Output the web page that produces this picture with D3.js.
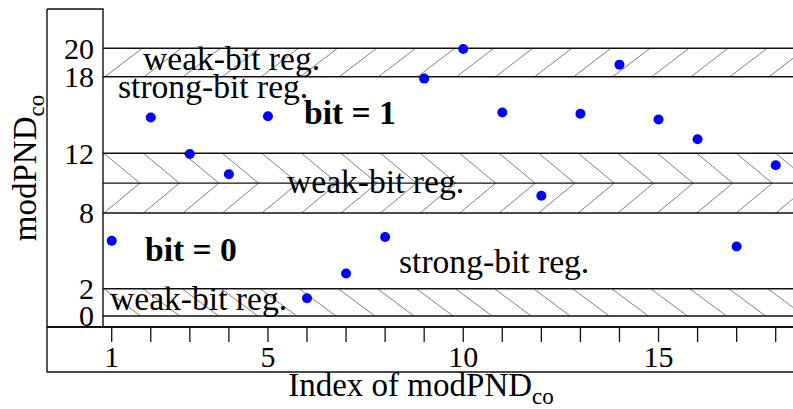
<!DOCTYPE html>
<html>
<script src="https://cdn.jsdelivr.net/npm/d3@7/dist/d3.min.js"></script>
<style>
  body, html { margin: 0; padding: 0; background: #fff; }
  svg { display: block; font-family: "Liberation Serif", "Times New Roman", serif; }
</style>
<body>
<svg width="793" height="409"></svg>
<script>
  // data
  var indices = [1, 2, 3, 4, 5, 6, 7, 8, 9, 10, 11, 12, 13, 14, 15, 16, 17, 18];
  var modPND = [5.8, 14.8, 11.95, 10.6, 14.9, 1.3, 3.2, 6.1, 17.85, 19.95,
                15.2, 9.15, 15.1, 18.85, 14.65, 13.1, 5.35, 11.2];
  var yTicks = [0, 2, 8, 12, 18, 20];
  var xTicks = [1, 2, 3, 4, 5, 6, 7, 8, 9, 10, 11, 12, 13, 14, 15, 16, 17, 18];
  var xTickLabels = [1, 5, 10, 15];
  var bandLines = [0, 2, 8, 10, 12, 18, 20];
  var labels = ['weak-bit reg.', 'strong-bit reg.', 'bit = 1', 'weak-bit reg.',
                'bit = 0', 'strong-bit reg.', 'weak-bit reg.'];

  var svg = d3.select('svg');
  var left = 103, right = 793, axisY = 327;

  var x = d3.scaleLinear().domain([0.777, 18.443]).range([left, right]);
  // the bands are not evenly spaced in the original, so the scale is piecewise
  var y = d3.scaleLinear()
    .domain([0, 2, 8, 12, 18, 20])
    .range([316, 288.7, 213, 153.3, 76.7, 48.3]);

  svg.append('clipPath').attr('id', 'plot')
    .append('rect').attr('x', left).attr('y', 0).attr('width', right - left).attr('height', axisY);

  // hatching: edge value, other edge value, start offset, step
  var hatches = [
    {from: 18, to: 20, start: 0.83, step: 1.0, span: 0.95},
    {from: 12, to: 10, start: 0.80, step: 1.012, span: 0.92},
    {from: 8, to: 10, start: 0.80, step: 1.012, span: 0.92},
    {from: 2, to: 0, start: 0.80, step: 1.0, span: 0.94}
  ];

  var hatchG = svg.append('g').attr('clip-path', 'url(#plot)');
  hatches.forEach(function (h) {
    hatchG.selectAll(null)
      .data(d3.range(-1, 19))
      .enter().append('line')
        .attr('x1', function (j) { return x(h.start + j * h.step); })
        .attr('y1', y(h.from))
        .attr('x2', function (j) { return x(h.start + j * h.step + h.span); })
        .attr('y2', y(h.to))
        .attr('stroke', '#808080')
        .attr('stroke-width', 1);
  });

  // band borders
  svg.append('g').selectAll('line')
    .data(bandLines)
    .enter().append('line')
      .attr('x1', left).attr('x2', right)
      .attr('y1', function (d) { return y(d); })
      .attr('y2', function (d) { return y(d); })
      .attr('stroke', '#111')
      .attr('stroke-width', 1.4);

  // frame
  var frame = svg.append('g').attr('stroke', '#111').attr('fill', 'none');
  frame.append('path').attr('d', 'M47,9H' + left + 'V' + axisY).attr('stroke-width', 1.4);
  frame.append('path').attr('d', 'M47,9V372H' + right).attr('stroke-width', 1.4);
  frame.append('line').attr('x1', 47).attr('x2', right).attr('y1', axisY).attr('y2', axisY)
    .attr('stroke-width', 2.2);

  // x ticks
  svg.append('g').selectAll('line')
    .data(xTicks)
    .enter().append('line')
      .attr('x1', function (d) { return x(d); })
      .attr('x2', function (d) { return x(d); })
      .attr('y1', axisY).attr('y2', 342)
      .attr('stroke', '#111').attr('stroke-width', 1.3);

  svg.append('g').selectAll('text')
    .data(xTickLabels)
    .enter().append('text')
      .attr('x', function (d) { return x(d); })
      .attr('y', 366.5)
      .attr('text-anchor', 'middle')
      .attr('font-size', 30)
      .text(function (d) { return d; });

  // y tick labels
  svg.append('g').selectAll('text')
    .data(yTicks)
    .enter().append('text')
      .attr('x', 94)
      .attr('y', function (d) { return y(d); })
      .attr('dy', '0.34em')
      .attr('text-anchor', 'end')
      .attr('font-size', 30)
      .text(function (d) { return d; });

  // points
  svg.append('g').selectAll('circle')
    .data(indices)
    .enter().append('circle')
      .attr('cx', function (d) { return x(d); })
      .attr('cy', function (d, i) { return y(modPND[i]); })
      .attr('r', 5)
      .attr('fill', '#0000ff');

  // region annotations
  var labelPos = [[143, 70], [118, 98], [304, 124], [287, 193], [145, 261], [399, 273], [110, 310]];
  svg.append('g').selectAll('text')
    .data(labels)
    .enter().append('text')
      .attr('x', function (d, i) { return labelPos[i][0]; })
      .attr('y', function (d, i) { return labelPos[i][1]; })
      .attr('font-size', 33.6)
      .attr('font-weight', function (d) { return d.indexOf('bit =') === 0 ? 'bold' : 'normal'; })
      .text(function (d) { return d; });

  // axis titles
  var xt = svg.append('text').attr('x', 421).attr('y', 396)
    .attr('text-anchor', 'middle').attr('font-size', 33);
  xt.append('tspan').text('Index of modPND');
  xt.append('tspan').attr('font-size', 23).attr('dy', 8).text('co');

  var yt = svg.append('text')
    .attr('transform', 'translate(36,168) rotate(-90)')
    .attr('text-anchor', 'middle').attr('font-size', 33);
  yt.append('tspan').text('modPND');
  yt.append('tspan').attr('font-size', 23).attr('dy', 8).text('co');
</script>
</body>
</html>
